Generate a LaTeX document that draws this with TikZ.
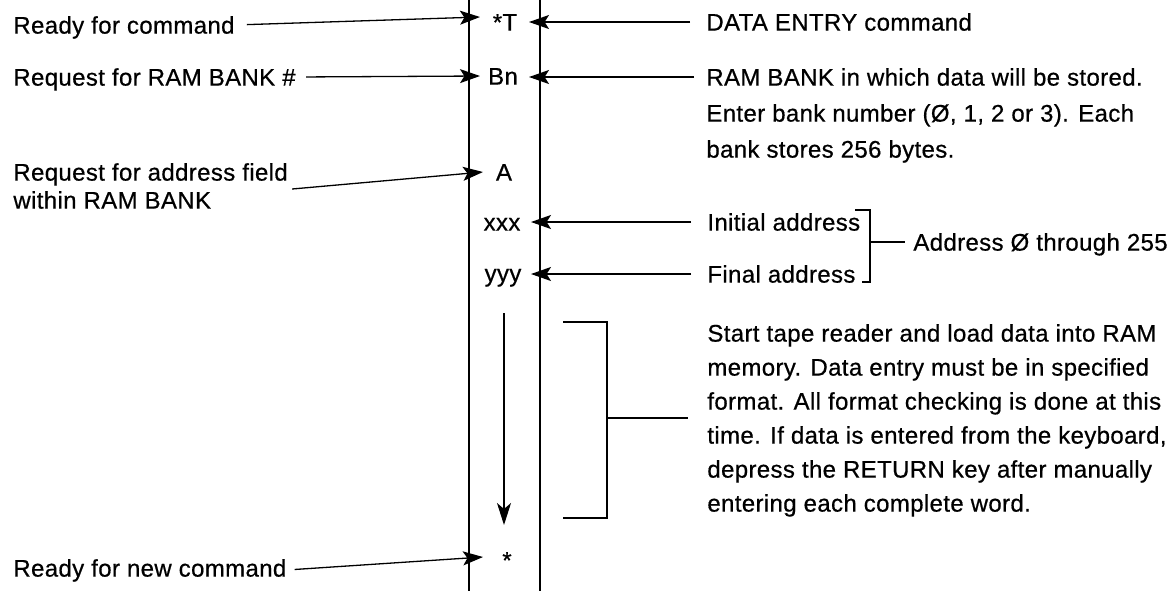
\documentclass[tikz,border=0pt]{standalone}
\usepackage{fontspec}
\setmainfont{Liberation Sans}[LetterSpace=1.5,FakeBold=0.6]
\usetikzlibrary{arrows.meta}
\begin{document}
\begin{tikzpicture}[x=0.5pt,y=-0.5pt,
  txt/.style={inner sep=0pt, font=\fontsize{12}{16}\selectfont, text height=8.6pt, text depth=0pt},
  lbl/.style={txt, anchor=west},
  mid/.style={txt, anchor=center},
  rail/.style={line width=1.3pt},
  lead/.style={line width=0.65pt},
  brk/.style={line width=0.85pt},
  arr/.style={lead, -{Stealth[length=10pt,width=7pt,inset=2.2pt]}},
  downarr/.style={line width=0.75pt, -{Stealth[length=11pt,width=7pt,inset=3pt]}}
]
\fill[white] (0,0) rectangle (1169,591);
\useasboundingbox (0,0) rectangle (1169,591);

% rails
\coordinate (Ltop) at (469,0);
\coordinate (Lbot) at (469,591);
\coordinate (Rtop) at (540,0);
\coordinate (Rbot) at (540,591);
\draw[rail] (Ltop) -- (Lbot);
\draw[rail] (Rtop) -- (Rbot);

% left labels
\node[lbl] (l1) at (13,25) {Ready for command};
\node[lbl] (l2) at (13,77) {Request for RAM BANK \#};
\node[lbl] (l3) at (13,172) {Request for address field};
\node[lbl] (l4) at (13,200) {within RAM BANK};
\node[lbl] (l5) at (13,568) {Ready for new command};

% centre column
\node[mid] (c1) at (505,22) {*T};
\node[mid] (c2) at (503,76) {Bn};
\node[mid] (c3) at (504,172) {A};
\node[mid] (c4) at (502,222) {xxx};
\node[mid] (c5) at (503,273) {yyy};
\node[mid] (c6) at (507,560) {*};

% right labels
\node[lbl] (r1) at (706,22) {DATA ENTRY command};
\node[lbl] (r2) at (706,77) {RAM BANK in which data will be stored.};
\node[lbl] (r3) at (706,113) {Enter bank number (Ø, 1, 2 or 3). Each};
\node[lbl] (r4) at (706,149) {bank stores 256 bytes.};
\node[lbl] (r5) at (707,222) {Initial address};
\node[lbl] (r6) at (707,274) {Final address};
\node[lbl] (r7) at (913,242) {Address Ø through 255};

\node[lbl] (p1) at (707,333) {Start tape reader and load data into RAM};
\node[lbl] (p2) at (707,367) {memory. Data entry must be in specified};
\node[lbl] (p3) at (707,401) {format. All format checking is done at this};
\node[lbl] (p4) at (707,435) {time. If data is entered from the keyboard,};
\node[lbl] (p5) at (707,469) {depress the RETURN key after manually};
\node[lbl] (p6) at (707,503) {entering each complete word.};

% left arrows
\coordinate (lt1) at (480,17);
\coordinate (lt2) at (480,76);
\coordinate (lt3s) at ([shift={(4,17)}]l3.east);
\coordinate (lt3) at (483,172);
\coordinate (lt5) at (483,557);
\draw[arr, shorten <=6pt] (l1.east) -- (lt1);
\draw[arr, shorten <=5pt] (l2.east) -- (lt2);
\draw[arr] (lt3s) -- (lt3);
\draw[arr, shorten <=4pt] ([yshift=-1pt]l5.east) -- (lt5);

% right arrows
\coordinate (rt1) at (529,22);
\coordinate (rt2) at (529,77);
\coordinate (rt5) at (531,222);
\coordinate (rt6) at (531,274);
\draw[arr, shorten <=8pt] (r1.west) -- (rt1);
\draw[arr, shorten <=6pt] (r2.west) -- (rt2);
\draw[arr, shorten <=8pt] (r5.west) -- (rt5);
\draw[arr, shorten <=8pt] (r6.west) -- (rt6);

% address bracket
\coordinate (ab1) at (855,210);
\coordinate (ab2) at (870,210);
\coordinate (ab3) at (870,282);
\coordinate (ab4) at (862,282);
\coordinate (abm) at (870,242);
\draw[brk] (ab1) -- (ab2) -- (ab3) -- (ab4);
\draw[lead, shorten >=4pt] (abm) -- (r7.west);

% data flow arrow
\coordinate (da1) at (504,313);
\coordinate (da2) at (504,525);
\draw[downarr] (da1) -- (da2);

% paragraph bracket
\coordinate (pb1) at (563,322);
\coordinate (pb2) at (607,322);
\coordinate (pb3) at (607,518);
\coordinate (pb4) at (563,518);
\coordinate (pbm) at (607,418);
\coordinate (pbe) at (688,418);
\draw[brk] (pb1) -- (pb2) -- (pb3) -- (pb4);
\draw[lead] (pbm) -- (pbe);
\end{tikzpicture}
\end{document}
